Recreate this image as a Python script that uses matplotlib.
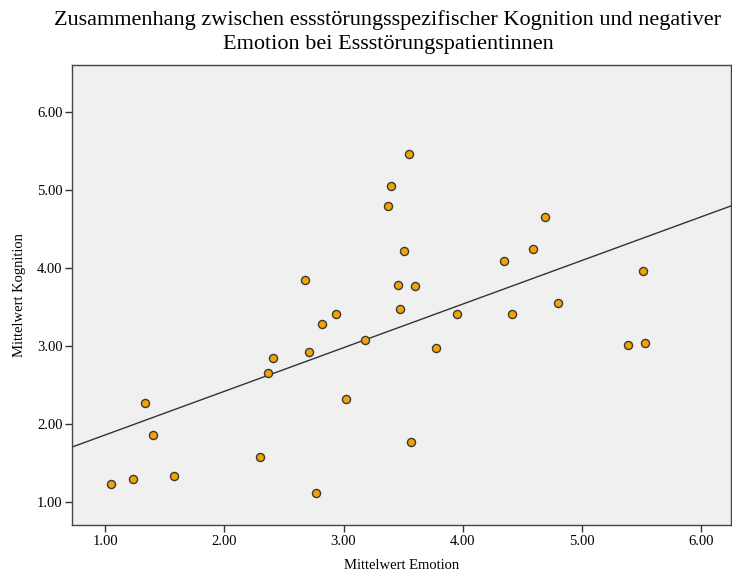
import matplotlib.pyplot as plt
import numpy as np

# mean negative emotion (x) and mean eating-disorder cognition (y) per patient
emotion = [1.05, 1.23, 1.33, 1.40, 1.58, 2.30, 2.37, 2.41, 2.68, 2.71, 2.77,
           2.82, 2.94, 3.02, 3.18, 3.37, 3.40, 3.46, 3.47, 3.51, 3.55, 3.57,
           3.60, 3.78, 3.95, 4.35, 4.41, 4.59, 4.69, 4.80, 5.39, 5.51, 5.53]
kognition = [1.24, 1.30, 2.27, 1.86, 1.34, 1.58, 2.66, 2.85, 3.85, 2.92, 1.12,
             3.29, 3.41, 2.32, 3.08, 4.80, 5.05, 3.78, 3.48, 4.22, 5.46, 1.78,
             3.77, 2.98, 3.41, 4.09, 3.41, 4.25, 4.66, 3.55, 3.02, 3.96, 3.04]

x_ticks = [1.0, 2.0, 3.0, 4.0, 5.0, 6.0]
y_ticks = [1.0, 2.0, 3.0, 4.0, 5.0, 6.0]

title = ("Zusammenhang zwischen essstörungsspezifischer Kognition und negativer\n"
         "Emotion bei Essstörungspatientinnen")

plt.rcParams["font.family"] = ["Liberation Serif", "DejaVu Serif"]

fig = plt.figure(figsize=(7.32, 5.75), dpi=100)
ax = fig.add_axes([0.099, 0.087, 0.9, 0.80])
ax.set_facecolor("#f0f0f0")

xlim = (0.725, 6.254)
ylim = (0.712, 6.60)

# least-squares fit line across the full x range
slope, intercept = np.polyfit(emotion, kognition, 1)
xs = np.array(xlim)
ax.plot(xs, slope * xs + intercept, color="#333333", lw=1.0, zorder=2)

ax.scatter(emotion, kognition, s=34, facecolor="#f5a300", edgecolor="#3a3a3a",
           linewidths=1.0, zorder=3)

ax.set_xlim(*xlim)
ax.set_ylim(*ylim)
ax.set_xticks(x_ticks)
ax.set_yticks(y_ticks)
ax.set_xticklabels([f"{v:.2f}" for v in x_ticks])
ax.set_yticklabels([f"{v:.2f}" for v in y_ticks])
ax.tick_params(direction="out", length=5, width=1, color="#333333",
               labelsize=10.5, pad=2)

for s in ax.spines.values():
    s.set_color("#444444")
    s.set_linewidth(1.0)

ax.set_xlabel("Mittelwert Emotion", fontsize=10.5, labelpad=8)
ax.set_ylabel("Mittelwert Kognition", fontsize=10.5, labelpad=8)
fig.text(0.530, 0.983, title, fontsize=16, ha="center", va="top",
         multialignment="center", linespacing=1.38)

fig.savefig("out.png", dpi=100)
